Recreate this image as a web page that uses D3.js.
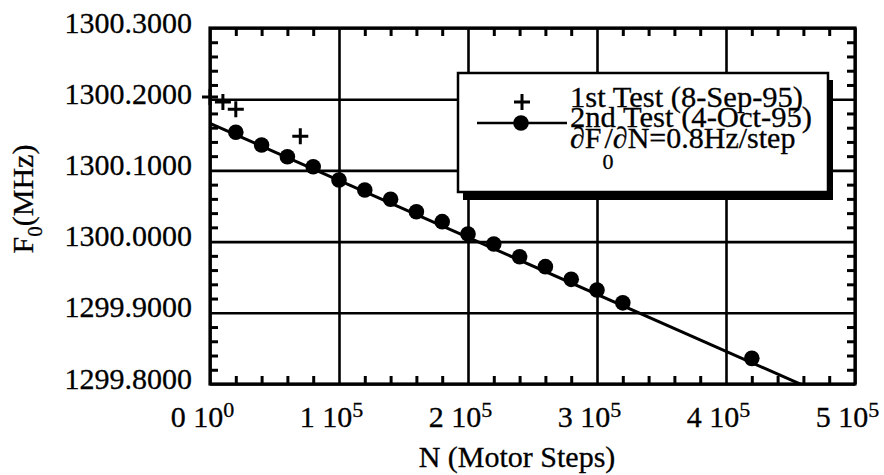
<!DOCTYPE html>
<html>
<head>
<meta charset="utf-8">
<script src="https://cdn.jsdelivr.net/npm/d3@7"></script>
<style>
  body { margin: 0; background: #fff; }
  svg { display: block; }
  text { font-family: "Liberation Serif", "Times New Roman", serif; fill: #000; stroke: #000; stroke-width: 0.3; }
  .grid line { stroke: #000; stroke-width: 2.6; }
  .grid path, .minor path { display: none; }
  .minor line { stroke: #000; stroke-width: 3; }
</style>
</head>
<body>
<script>
// 1st test (8-Sep-95), plus markers
const test1N = [0, 10000, 20000, 70000]
const test1F = [1300.203, 1300.196, 1300.186, 1300.148]

// 2nd test (4-Oct-95), filled circles
const test2N = [20000, 40000, 60000, 80000, 100000, 120000, 140000, 160000, 180000,
  200000, 220000, 240000, 260000, 280000, 300000, 320000, 420000]
const test2F = [1300.1535, 1300.1357, 1300.1192, 1300.1052, 1300.0865, 1300.0725,
  1300.0594, 1300.042, 1300.028, 1300.0107, 1299.9966, 1299.9788, 1299.9648,
  1299.947, 1299.932, 1299.914, 1299.836]

// straight fit line, end points
const fitN = [0, 460000]
const fitF = [1300.166, 1299.798]

const xTicks = [0, 100000, 200000, 300000, 400000, 500000]
const xTickMant = ['0', '1', '2', '3', '4', '5']
const xTickExp = ['0', '5', '5', '5', '5', '5']
const yTicks = [1299.8, 1299.9, 1300.0, 1300.1, 1300.2, 1300.3]
const yTickLabels = ['1299.8000', '1299.9000', '1300.0000', '1300.1000', '1300.2000', '1300.3000']

const legendLabels = ['1st Test (8-Sep-95)', '2nd Test (4-Oct-95)']

const width = 884
const height = 475
const margin = { top: 28, right: 29, bottom: 91, left: 210 }
const w = width - margin.left - margin.right
const h = height - margin.top - margin.bottom
const fs = 30

const svg = d3.select('body')
  .append('svg')
  .attr('width', width)
  .attr('height', height)

const x = d3.scaleLinear().domain([0, 500000]).range([0, w])
const y = d3.scaleLinear().domain([1299.8, 1300.3]).range([h, 0])

const g = svg.append('g')
  .attr('transform', `translate(${margin.left},${margin.top})`)

svg.append('defs').append('clipPath')
  .attr('id', 'plot')
  .append('rect')
  .attr('width', w)
  .attr('height', h)

// major grid
g.append('g')
  .attr('class', 'grid')
  .attr('transform', `translate(0,${h})`)
  .call(d3.axisBottom(x).tickValues(xTicks).tickSize(-h).tickFormat(''))

g.append('g')
  .attr('class', 'grid')
  .call(d3.axisLeft(y).tickValues(yTicks).tickSize(-w).tickFormat(''))

// minor ticks, inward on all four sides
const xMinor = d3.range(0, 500001, 20000).filter(v => v % 100000 !== 0)
const yMinor = d3.range(0, 26).map(i => 1299.8 + i * 0.02)
  .filter((v, i) => i % 5 !== 0)
const tl = 8

g.append('g').attr('class', 'minor')
  .attr('transform', `translate(0,${h})`)
  .call(d3.axisBottom(x).tickValues(xMinor).tickSize(-tl).tickFormat(''))
g.append('g').attr('class', 'minor')
  .call(d3.axisTop(x).tickValues(xMinor).tickSize(-tl).tickFormat(''))
g.append('g').attr('class', 'minor')
  .call(d3.axisLeft(y).tickValues(yMinor).tickSize(-tl).tickFormat(''))
g.append('g').attr('class', 'minor')
  .attr('transform', `translate(${w},0)`)
  .call(d3.axisRight(y).tickValues(yMinor).tickSize(-tl).tickFormat(''))

// frame
g.append('rect')
  .attr('width', w)
  .attr('height', h)
  .attr('fill', 'none')
  .attr('stroke', '#000')
  .attr('stroke-width', 3.2)

// fit line
const line = d3.line().x(d => x(d[0])).y(d => y(d[1]))
g.append('path')
  .attr('clip-path', 'url(#plot)')
  .attr('d', line(d3.zip(fitN, fitF)))
  .attr('fill', 'none')
  .attr('stroke', '#000')
  .attr('stroke-width', 3)

// 2nd test circles
g.append('g')
  .selectAll('circle')
  .data(d3.zip(test2N, test2F))
  .join('circle')
  .attr('cx', d => x(d[0]))
  .attr('cy', d => y(d[1]))
  .attr('r', 7.8)
  .attr('fill', '#000')

// 1st test plus markers
const plus = 'M-8,0H8M0,-8V8'
g.append('g')
  .selectAll('path')
  .data(d3.zip(test1N, test1F))
  .join('path')
  .attr('transform', d => `translate(${x(d[0])},${y(d[1])})`)
  .attr('d', plus)
  .attr('stroke', '#000')
  .attr('stroke-width', 3)

// x tick labels with powers of ten
const xl = g.append('g')
  .attr('transform', `translate(0,${h})`)
  .call(d3.axisBottom(x).tickValues(xTicks).tickSize(0).tickPadding(0))
xl.select('.domain').remove()
xl.selectAll('text')
  .attr('y', 43)
  .attr('dy', null)
  .attr('dx', -8)
  .attr('font-size', fs)
  .attr('font-family', '"Liberation Serif", "Times New Roman", serif')
  .text(null)
  .each(function (d, i) {
    const t = d3.select(this)
    t.append('tspan').text(xTickMant[i] + ' 10')
    t.append('tspan').attr('dy', -10).attr('font-size', 22).text(xTickExp[i])
  })

// y tick labels
const yl = g.append('g')
  .call(d3.axisLeft(y).tickValues(yTicks).tickSize(0).tickPadding(18)
    .tickFormat((d, i) => yTickLabels[i]))
yl.select('.domain').remove()
yl.selectAll('text')
  .attr('dy', 4)
  .attr('font-size', fs)
  .attr('font-family', '"Liberation Serif", "Times New Roman", serif')

// axis titles
svg.append('text')
  .attr('x', 517)
  .attr('y', 467)
  .attr('text-anchor', 'middle')
  .attr('font-size', fs)
  .text('N (Motor Steps)')

const yt = svg.append('text')
  .attr('transform', 'translate(33,199) rotate(-90)')
  .attr('text-anchor', 'middle')
  .attr('font-size', fs)
yt.append('tspan').text('F')
yt.append('tspan').attr('dy', 9).attr('font-size', 21).text('0')
yt.append('tspan').attr('dy', -9).text('(MHz)')

// legend box with drop shadow
const lg = svg.append('g')
lg.append('rect')
  .attr('x', 463).attr('y', 80)
  .attr('width', 370).attr('height', 120)
  .attr('fill', '#000')
lg.append('rect')
  .attr('x', 458).attr('y', 73)
  .attr('width', 370).attr('height', 119)
  .attr('fill', '#fff')
  .attr('stroke', '#000')
  .attr('stroke-width', 2.5)

lg.append('path')
  .attr('transform', 'translate(522,102)')
  .attr('d', plus)
  .attr('stroke', '#000')
  .attr('stroke-width', 3)
lg.append('line')
  .attr('x1', 477).attr('x2', 567)
  .attr('y1', 123).attr('y2', 123)
  .attr('stroke', '#000')
  .attr('stroke-width', 2.5)
lg.append('circle')
  .attr('cx', 521).attr('cy', 123)
  .attr('r', 7.8)
  .attr('fill', '#000')

lg.selectAll('text.lab')
  .data(legendLabels)
  .join('text')
  .attr('class', 'lab')
  .attr('x', 570)
  .attr('y', (d, i) => 107 + i * 20)
  .attr('font-size', fs)
  .attr('textLength', (d, i) => [233, 242][i])
  .attr('lengthAdjust', 'spacingAndGlyphs')
  .text(d => d)

const slope = lg.append('text')
  .attr('x', 570)
  .attr('y', 148)
  .attr('font-size', fs)
slope.append('tspan').text('\u2202F')
slope.append('tspan').attr('dx', 1).attr('dy', 21).attr('font-size', 22).text('0')
slope.append('tspan').attr('dx', -9).attr('dy', -21).text('/\u2202N=0.8Hz/step')
</script>
</body>
</html>
